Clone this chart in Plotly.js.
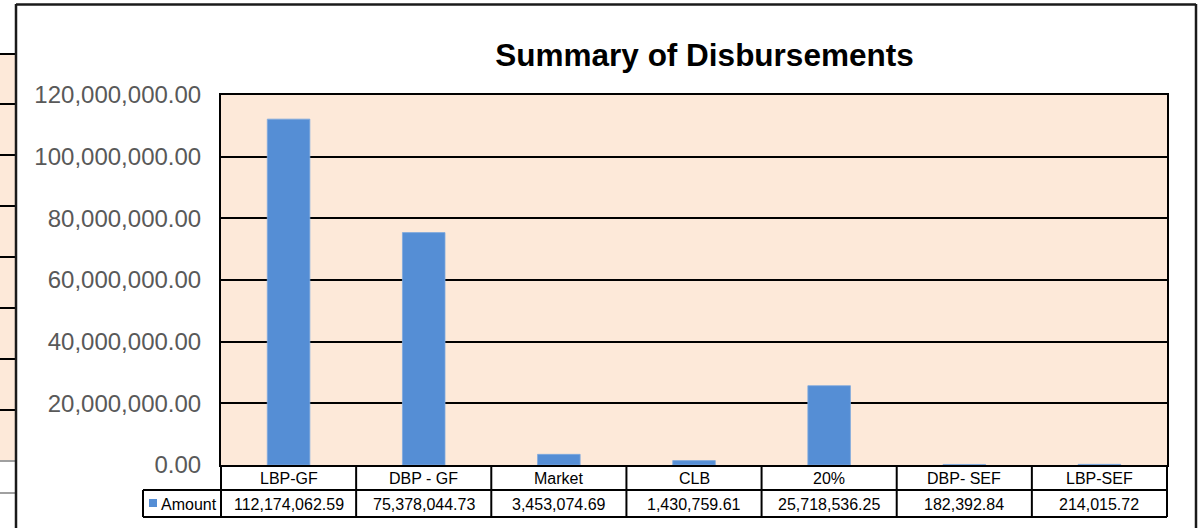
<!DOCTYPE html>
<html>
<head>
<meta charset="utf-8">
<script src="https://cdn.plot.ly/plotly-3.0.1.min.js"></script>
<style>html,body{margin:0;padding:0;background:#fff;}#chart{width:1199px;height:528px;}</style>
</head>
<body>
<div id="chart"></div>
<script>
// ---- data ----
var categories = ["LBP-GF", "DBP - GF", "Market", "CLB", "20%", "DBP- SEF", "LBP-SEF"];
var amounts = [112174062.59, 75378044.73, 3453074.69, 1430759.61, 25718536.25, 182392.84, 214015.72];
var seriesName = "Amount";
var chartTitle = "Summary of Disbursements";
var yTickVals = [0, 20000000, 40000000, 60000000, 80000000, 100000000, 120000000];

// ---- layout helpers (pixel -> paper, decoration only) ----
var W = 1199, H = 528;
var mL = 221, mR = 32, mT = 95, mB = 63;
var pw = W - mL - mR, ph = H - mT - mB;
function px(x) { return (x - mL) / pw; }
function py(y) { return (H - mB - y) / ph; }
function fmt(v) { return v.toLocaleString('en-US', {minimumFractionDigits: 2, maximumFractionDigits: 2}); }

var barColor = '#558ED5';
var shapes = [];
function line(x0, y0, x1, y1, color, w) {
  shapes.push({type: 'line', xref: 'paper', yref: 'paper', x0: px(x0), y0: py(y0), x1: px(x1), y1: py(y1),
    line: {color: color, width: w}, layer: 'above'});
}
// spreadsheet cells at left
shapes.push({type: 'rect', xref: 'paper', yref: 'paper', x0: px(0), x1: px(15), y0: py(54), y1: py(460),
  fillcolor: '#FDE9D9', line: {width: 0}, layer: 'below'});
[54, 104, 155, 206, 257, 308, 359, 410].forEach(function (y) { line(0, y, 15, y, '#000', 2); });
line(0, 461, 15, 461, '#808080', 1.5);
line(0, 493, 15, 493, '#808080', 1.5);
// outer chart border
line(16, 4, 16, 530, '#1a1a1a', 2.5);
line(16, 4.5, 1196, 4.5, '#1a1a1a', 2.5);
line(1196, 4, 1196, 530, '#1a1a1a', 2.5);

// data table lines
var n = categories.length;
var colW = pw / n;
line(mL, 490, mL + pw, 490, '#000', 2);
line(143, 490, mL, 490, '#000', 2);
line(143, 517, mL + pw, 517, '#000', 2);
line(143, 490, 143, 517, '#000', 2);
for (var i = 0; i <= n; i++) {
  var xx = mL + i * colW;
  line(xx, 465, xx, 517, '#000', 2);
}
// legend key
shapes.push({type: 'rect', xref: 'paper', yref: 'paper', x0: px(149), x1: px(157), y0: py(499), y1: py(507),
  fillcolor: barColor, line: {width: 0}, layer: 'above'});

var annotations = [];
categories.forEach(function (c, i) {
  annotations.push({xref: 'x', yref: 'paper', x: c, y: py(478), text: c, showarrow: false,
    xanchor: 'center', yanchor: 'middle', font: {family: 'Liberation Sans, Arial', size: 16, color: '#000'}});
  annotations.push({xref: 'x', yref: 'paper', x: c, y: py(504), text: fmt(amounts[i]), showarrow: false,
    xanchor: 'center', yanchor: 'middle', font: {family: 'Liberation Sans, Arial', size: 16, color: '#000'}});
});
annotations.push({xref: 'paper', yref: 'paper', x: px(159), y: py(504), text: seriesName, showarrow: false,
  xanchor: 'left', yanchor: 'middle', font: {family: 'Liberation Sans, Arial', size: 16, color: '#000'}});

var trace = {
  type: 'bar', x: categories, y: amounts, name: seriesName,
  marker: {color: barColor, line: {color: '#7FA9DE', width: 0.8}},
  hoverinfo: 'x+y'
};

var layout = {
  width: W, height: H,
  margin: {l: mL, r: mR, t: mT, b: mB, pad: 0},
  paper_bgcolor: '#ffffff',
  plot_bgcolor: '#FDE9D9',
  showlegend: false,
  bargap: 0.685,
  title: {text: '<b>' + chartTitle + '</b>', xref: 'container', yref: 'container', x: 704.5 / W, y: 1 - 55 / H,
    xanchor: 'center', yanchor: 'middle', font: {family: 'Liberation Sans, Arial', size: 31.5, color: '#000'}},
  xaxis: {type: 'category', showticklabels: false, ticks: '', showgrid: false, zeroline: false,
    showline: true, mirror: true, linecolor: '#000', linewidth: 2, range: [-0.5, n - 0.5], fixedrange: true},
  yaxis: {range: [0, 120000000], tickvals: yTickVals, ticktext: yTickVals.map(fmt),
    showgrid: true, gridcolor: '#000', gridwidth: 2, zeroline: false,
    showline: true, mirror: true, linecolor: '#000', linewidth: 2,
    ticks: 'outside', ticklen: 13, tickcolor: 'rgba(0,0,0,0)',
    tickfont: {family: 'Liberation Sans, Arial', size: 24, color: '#595959'}, fixedrange: true},
  shapes: shapes,
  annotations: annotations
};

Plotly.newPlot('chart', [trace], layout, {displayModeBar: false, staticPlot: true});
</script>
</body>
</html>
